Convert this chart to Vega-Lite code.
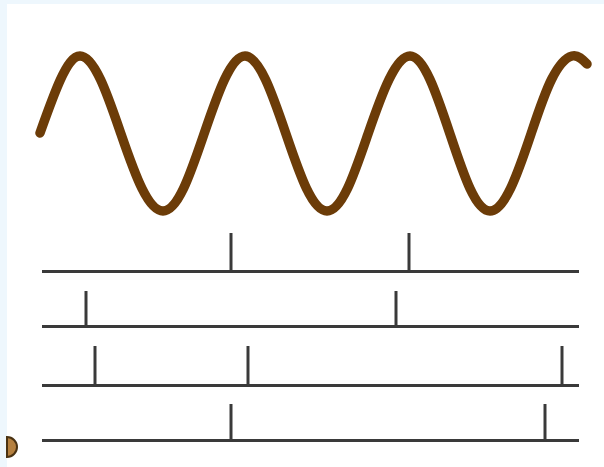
{
  "$schema": "https://vega.github.io/schema/vega-lite/v6.json",
  "width": 597,
  "height": 463,
  "autosize": {"type": "none"},
  "padding": {"left": 7, "top": 4, "right": 0, "bottom": 0},
  "background": "#EEF7FD",
  "config": {"view": {"fill": "white", "stroke": null}},
  "datasets": {
    "wave": [
      {"t": 33, "v": 334}, {"t": 53.5, "v": 387.5}, {"t": 73, "v": 411}, {"t": 93.5, "v": 387.5},
      {"t": 114, "v": 333}, {"t": 135, "v": 278.5}, {"t": 156, "v": 256}, {"t": 176.5, "v": 278.5},
      {"t": 197, "v": 333}, {"t": 217.5, "v": 387.5}, {"t": 238, "v": 411}, {"t": 258.5, "v": 387.5},
      {"t": 279, "v": 333}, {"t": 299.5, "v": 278.5}, {"t": 320, "v": 256}, {"t": 340.5, "v": 278.5},
      {"t": 361, "v": 333}, {"t": 382, "v": 387.5}, {"t": 403, "v": 411}, {"t": 423, "v": 387.5},
      {"t": 443, "v": 333}, {"t": 463, "v": 278.5}, {"t": 483, "v": 256}, {"t": 503.5, "v": 278.5},
      {"t": 524, "v": 333}, {"t": 544.5, "v": 387.5}, {"t": 565, "v": 411}, {"t": 580, "v": 403}
    ],
    "trains": [
      {"row": 1, "start": 35, "end": 572, "v": 195.5},
      {"row": 2, "start": 35, "end": 572, "v": 140.5},
      {"row": 3, "start": 35, "end": 572, "v": 81.5},
      {"row": 4, "start": 35, "end": 572, "v": 26.5}
    ],
    "spikes": [
      {"row": 1, "t": 224, "base": 195.5, "top": 234},
      {"row": 1, "t": 402, "base": 195.5, "top": 234},
      {"row": 2, "t": 79, "base": 140.5, "top": 176},
      {"row": 2, "t": 389, "base": 140.5, "top": 176},
      {"row": 3, "t": 88, "base": 81.5, "top": 121},
      {"row": 3, "t": 241, "base": 81.5, "top": 121},
      {"row": 3, "t": 555, "base": 81.5, "top": 121},
      {"row": 4, "t": 224, "base": 26.5, "top": 63},
      {"row": 4, "t": 538, "base": 26.5, "top": 63}
    ],
    "marker": [{"t": 0, "v": 20}]
  },
  "layer": [
    {
      "data": {"name": "trains"},
      "mark": {"type": "rule", "color": "#3a3a3a", "strokeWidth": 3, "strokeCap": "butt"},
      "encoding": {
        "x": {"field": "start", "type": "quantitative", "scale": {"domain": [0, 597], "nice": false, "zero": false}, "axis": null},
        "x2": {"field": "end"},
        "y": {"field": "v", "type": "quantitative", "scale": {"domain": [0, 463], "nice": false, "zero": false}, "axis": null}
      }
    },
    {
      "data": {"name": "spikes"},
      "mark": {"type": "rule", "color": "#3a3a3a", "strokeWidth": 3, "strokeCap": "butt"},
      "encoding": {
        "x": {"field": "t", "type": "quantitative"},
        "y": {"field": "base", "type": "quantitative"},
        "y2": {"field": "top"}
      }
    },
    {
      "data": {"name": "wave"},
      "mark": {"type": "line", "color": "#6C3C08", "strokeWidth": 9.5, "strokeCap": "round", "strokeJoin": "round", "interpolate": "natural"},
      "encoding": {
        "x": {"field": "t", "type": "quantitative"},
        "y": {"field": "v", "type": "quantitative"}
      }
    },
    {
      "data": {"name": "marker"},
      "mark": {"type": "point", "shape": "M0,-1A1,1 0 0,1 0,1Z", "filled": true, "size": 400, "fill": "#B5803F", "stroke": "#4A3212", "strokeWidth": 2, "opacity": 1},
      "encoding": {
        "x": {"field": "t", "type": "quantitative"},
        "y": {"field": "v", "type": "quantitative"}
      }
    }
  ]
}
